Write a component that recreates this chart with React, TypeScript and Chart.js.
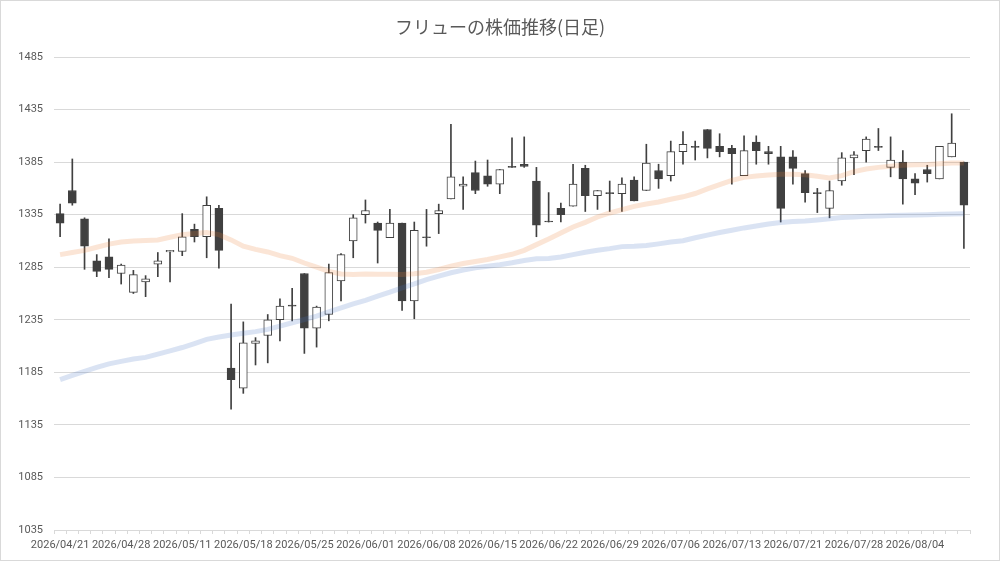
import { useEffect, useRef } from "react";
import { Chart, registerables } from "chart.js";

Chart.register(...registerables);

const chartTitle = "フリューの株価推移(日足)";

const dates = [
  "2026/04/21", "2026/04/22", "2026/04/23", "2026/04/24", "2026/04/27", "2026/04/28", "2026/04/30", "2026/05/01", "2026/05/07", "2026/05/08",
  "2026/05/11", "2026/05/12", "2026/05/13", "2026/05/14", "2026/05/15", "2026/05/18", "2026/05/19", "2026/05/20", "2026/05/21", "2026/05/22",
  "2026/05/25", "2026/05/26", "2026/05/27", "2026/05/28", "2026/05/29", "2026/06/01", "2026/06/02", "2026/06/03", "2026/06/04", "2026/06/05",
  "2026/06/08", "2026/06/09", "2026/06/10", "2026/06/11", "2026/06/12", "2026/06/15", "2026/06/16", "2026/06/17", "2026/06/18", "2026/06/19",
  "2026/06/22", "2026/06/23", "2026/06/24", "2026/06/25", "2026/06/26", "2026/06/29", "2026/06/30", "2026/07/01", "2026/07/02", "2026/07/03",
  "2026/07/06", "2026/07/07", "2026/07/08", "2026/07/09", "2026/07/10", "2026/07/13", "2026/07/14", "2026/07/15", "2026/07/16", "2026/07/17",
  "2026/07/21", "2026/07/22", "2026/07/23", "2026/07/24", "2026/07/27", "2026/07/28", "2026/07/29", "2026/07/30", "2026/07/31", "2026/08/03",
  "2026/08/04", "2026/08/05", "2026/08/06", "2026/08/07", "2026/08/10",
];

const opens = [
  1336, 1358, 1331, 1291, 1295, 1279, 1261, 1271, 1288, 1299.5,
  1300, 1321, 1314, 1341, 1189, 1170, 1212.5, 1220, 1235, 1249,
  1279, 1227, 1240, 1272, 1310, 1335, 1327, 1313, 1327, 1253,
  1314, 1336, 1350, 1362, 1375, 1372, 1364, 1381, 1383, 1367,
  1329, 1341, 1343, 1379, 1353, 1356, 1355, 1368, 1358, 1377,
  1372, 1395, 1400, 1416, 1400, 1398, 1372, 1404, 1395, 1390,
  1390, 1374, 1356, 1341, 1367, 1389, 1396, 1400, 1380, 1385,
  1369, 1378, 1369, 1390, 1385,
];

const highs = [
  1345, 1388, 1332, 1297, 1312, 1288, 1282, 1277, 1299, 1301,
  1336, 1326, 1352, 1344, 1250, 1233, 1218, 1240, 1255, 1265,
  1279, 1248, 1288, 1298, 1335, 1349, 1328, 1340, 1327, 1328,
  1340, 1345, 1421, 1371, 1386, 1387, 1378, 1408, 1409, 1380,
  1356, 1346, 1383, 1382, 1358, 1367, 1370, 1371, 1402, 1383,
  1405, 1414, 1405, 1416, 1412, 1401, 1410, 1410, 1400, 1400,
  1396, 1377, 1360, 1367, 1394, 1395, 1409, 1417, 1409, 1396,
  1374, 1382, 1400, 1431, 1385,
];

const lows = [
  1314, 1344, 1283, 1276, 1275, 1269, 1260, 1257, 1276, 1271,
  1296, 1309, 1294, 1284, 1150, 1165, 1192, 1194, 1215, 1234,
  1203, 1209, 1234, 1253, 1294, 1327, 1289, 1313, 1244, 1236,
  1305, 1317, 1350, 1340, 1355, 1362, 1355, 1380, 1380, 1314,
  1328, 1328, 1343, 1338, 1340, 1338, 1338, 1348, 1358, 1360,
  1367, 1383, 1387, 1389, 1390, 1364, 1372, 1383, 1383, 1328,
  1364, 1347, 1337, 1332, 1363, 1373, 1385, 1396, 1371, 1345,
  1354, 1366, 1369, 1390, 1303,
];

const closes = [
  1327, 1346, 1305, 1281, 1283, 1287, 1278, 1274, 1291, 1301,
  1314, 1314, 1344, 1301, 1178, 1213, 1215, 1235, 1248, 1248,
  1227, 1247, 1280, 1297, 1332, 1339, 1320, 1327, 1253, 1320,
  1313, 1339, 1371, 1364, 1358, 1364, 1378, 1380, 1381, 1325,
  1328, 1335, 1364, 1353, 1358, 1355, 1364, 1348, 1384, 1369,
  1395, 1402, 1399, 1398, 1395, 1393, 1396, 1396, 1393, 1341,
  1379, 1356, 1355, 1358, 1389, 1392, 1407, 1399, 1387, 1369,
  1365, 1374, 1400, 1403, 1344,
];

// 25-day moving average (orange band)
const ma25 = [
  1297, 1299, 1301, 1304, 1307, 1309, 1310, 1310.5, 1311, 1313.5,
  1316, 1317, 1318, 1316, 1311, 1305, 1302, 1299.5, 1296, 1293.5,
  1289, 1285, 1281, 1278.5, 1278, 1278.5, 1278.4, 1278.4, 1278, 1278.7,
  1280.3, 1282.8, 1286, 1288.5, 1290.4, 1292.3, 1294.8, 1297.3, 1301.1, 1306.5,
  1311.9, 1317.6, 1323.3, 1327.7, 1332.8, 1336.6, 1339.7, 1342.9, 1345.1, 1347,
  1349.7, 1352, 1355.1, 1359.5, 1363.6, 1367.7, 1370.5, 1371.8, 1372.7, 1373.4,
  1373.4, 1373, 1371.5, 1369.9, 1372.1, 1375.9, 1378.4, 1380, 1381, 1381.9,
  1382.5, 1382.8, 1383.4, 1384.1, 1384.1,
];

// 75-day moving average (blue band)
const ma75 = [
  1178, 1182, 1186, 1189.7, 1193, 1195.4, 1197.6, 1199.2, 1202.3, 1205.4,
  1208.6, 1212.4, 1216.4, 1218.6, 1220.5, 1222.1, 1223.7, 1225.9, 1229, 1232.2,
  1235.3, 1238.5, 1242.5, 1246.3, 1250.1, 1253.5, 1257.5, 1261.3, 1265.4, 1269.2,
  1273.3, 1276.5, 1279.7, 1282.2, 1284.4, 1286, 1287.3, 1289.2, 1291.4, 1293,
  1293.3, 1294.8, 1297, 1299.2, 1301.1, 1302.7, 1304.6, 1304.9, 1305.6, 1307.2,
  1309, 1310.2, 1313, 1315.5, 1318, 1320.2, 1322.4, 1324.3, 1326.2, 1327.5,
  1328.4, 1329, 1330, 1331.2, 1332.2, 1332.8, 1333.4, 1333.7, 1334.1, 1334.4,
  1334.7, 1335, 1335.3, 1335.6, 1335.9,
];

const yMin = 1035;
const yMax = 1485;
const yStep = 50;
const labelEvery = 5;

const centeredTitle = {
  id: "centeredTitle",
  afterDraw(chart: any) {
    const ctx = chart.ctx;
    ctx.save();
    ctx.fillStyle = "#595959";
    ctx.font = "18px 'Noto Sans CJK JP', sans-serif";
    ctx.textAlign = "center";
    ctx.textBaseline = "middle";
    ctx.fillText(chartTitle, chart.width / 2, 27);
    ctx.restore();
  },
};

export default function App() {
  const canvasRef = useRef<HTMLCanvasElement | null>(null);

  useEffect(() => {
    document.body.style.margin = "0";
    const canvas = canvasRef.current;
    if (!canvas) return;

    const dark = "#404040";
    const isUp = closes.map((c, i) => c >= opens[i]);
    const bodies = opens.map((o, i) => [Math.min(o, closes[i]), Math.max(o, closes[i])]);
    const wicks = lows.map((l, i) => [l, highs[i]]);
    const tickFont = { family: "Roboto, 'Noto Sans', sans-serif", size: 11 };

    const chart = new Chart(canvas, {
      type: "bar",
      data: {
        labels: dates,
        datasets: [
          {
            type: "line",
            label: "25日移動平均",
            data: ma25,
            borderColor: "rgba(237,125,49,0.2)",
            borderWidth: 5,
            pointRadius: 0,
            tension: 0,
            order: 0,
          } as any,
          {
            type: "line",
            label: "75日移動平均",
            data: ma75,
            borderColor: "rgba(68,114,196,0.2)",
            borderWidth: 5,
            pointRadius: 0,
            tension: 0,
            order: 1,
          } as any,
          {
            type: "bar",
            label: "実体",
            data: bodies,
            backgroundColor: isUp.map((u) => (u ? "#ffffff" : dark)),
            borderColor: dark,
            borderWidth: 1,
            borderSkipped: false,
            barThickness: 8,
            grouped: false,
            order: 2,
          } as any,
          {
            type: "bar",
            label: "ヒゲ",
            data: wicks,
            backgroundColor: dark,
            borderWidth: 0,
            barThickness: 1,
            grouped: false,
            order: 3,
          } as any,
        ],
      },
      options: {
        responsive: false,
        animation: false,
        events: [],
        layout: { padding: { left: 0, right: 30, top: 57, bottom: 0 } },
        plugins: {
          legend: { display: false },
          tooltip: { enabled: false },
          title: { display: false },
        },
        scales: {
          x: {
            type: "category",
            offset: true,
            grid: {
              offset: true,
              drawOnChartArea: false,
              drawTicks: true,
              tickLength: 4,
              color: "#d9d9d9",
            },
            border: { display: true, color: "#d9d9d9" },
            ticks: {
              autoSkip: false,
              maxRotation: 0,
              minRotation: 0,
              padding: 5,
              color: "#595959",
              font: tickFont,
              callback: (_v: any, i: number) => (i % labelEvery === 0 ? dates[i] : ""),
            },
            afterFit: (scale: any) => {
              scale.height = 31;
            },
          },
          y: {
            type: "linear",
            min: yMin,
            max: yMax,
            grid: { color: "#d9d9d9", drawTicks: false, lineWidth: 1 },
            border: { display: false },
            ticks: {
              stepSize: yStep,
              padding: 11,
              color: "#595959",
              font: tickFont,
              callback: (v: any) => String(v),
            },
            afterFit: (scale: any) => {
              scale.width = 54;
            },
          },
        },
      } as any,
      plugins: [centeredTitle],
    });

    return () => {
      chart.destroy();
    };
  }, []);

  return (
    <div
      style={{
        position: "fixed",
        left: 0,
        top: 0,
        width: 1000,
        height: 561,
        background: "#ffffff",
      }}
    >
      <canvas
        ref={canvasRef}
        width={1000}
        height={561}
        style={{ position: "absolute", left: 0, top: 0, width: 1000, height: 561 }}
      />
      <div
        style={{
          position: "absolute",
          inset: 0,
          border: "1px solid #d9d9d9",
          boxSizing: "border-box",
          pointerEvents: "none",
        }}
      />
    </div>
  );
}
